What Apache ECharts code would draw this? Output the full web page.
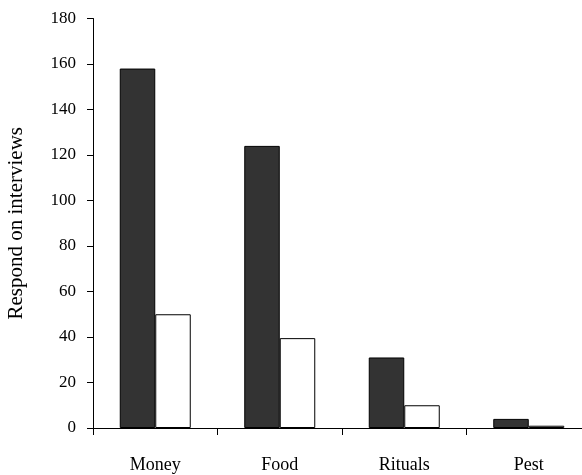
<!DOCTYPE html>
<html>
<head>
<meta charset="utf-8">
<script src="https://cdn.jsdelivr.net/npm/echarts@6/dist/echarts.min.js"></script>
<style>html,body{margin:0;padding:0;background:#fff}#c{width:582px;height:475px}</style>
</head>
<body>
<div id="c"></div>
<script>
const categories = ['Money', 'Food', 'Rituals', 'Pest'];
const seriesDark = [158, 124, 31, 4];
const seriesWhite = [50, 39.5, 10, 1];
const yTicks = {min: 0, max: 180, interval: 20};

const chart = echarts.init(document.getElementById('c'), null, {renderer: 'canvas'});
const font = '"Liberation Serif", "Times New Roman", serif';
chart.setOption({
  animation: false,
  backgroundColor: '#ffffff',
  grid: {left: 93, top: 18.5, height: 409.5, width: 498, containLabel: false, outerBoundsMode: 'none'},
  xAxis: {
    type: 'category',
    data: categories,
    axisLine: {lineStyle: {color: '#000', width: 1}},
    axisTick: {show: true, length: 7, lineStyle: {color: '#000'}},
    axisLabel: {color: '#000', fontFamily: font, fontSize: 18, margin: 28}
  },
  yAxis: {
    type: 'value',
    min: yTicks.min, max: yTicks.max, interval: yTicks.interval,
    name: 'Respond on interviews',
    nameLocation: 'middle',
    nameGap: 66,
    nameTextStyle: {color: '#000', fontFamily: font, fontSize: 21},
    axisLine: {show: true, lineStyle: {color: '#000', width: 1}},
    axisTick: {show: true, length: 6, lineStyle: {color: '#000'}},
    axisLabel: {color: '#000', fontFamily: font, fontSize: 17, margin: 17},
    splitLine: {show: false}
  },
  series: [
    {type: 'bar', data: seriesDark, barWidth: 35.5, barGap: '0%',
     itemStyle: {color: '#333333', borderColor: '#000', borderWidth: 1}},
    {type: 'bar', data: seriesWhite, barWidth: 35.5,
     itemStyle: {color: '#ffffff', borderColor: '#000', borderWidth: 1}}
  ]
});
</script>
</body>
</html>
